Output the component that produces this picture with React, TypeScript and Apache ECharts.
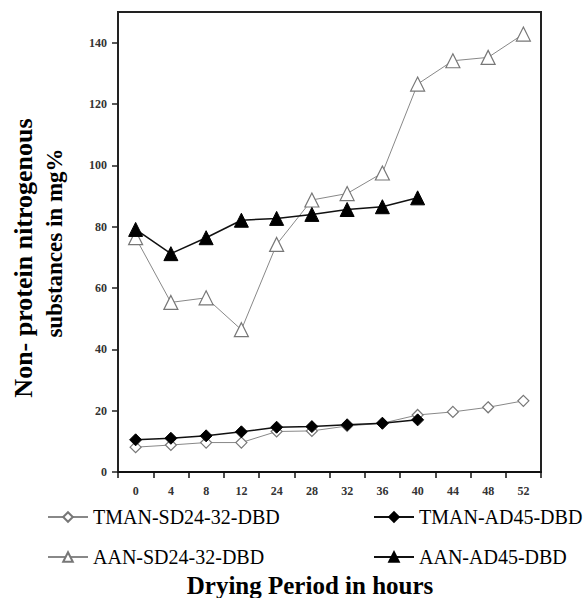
import React, { useEffect, useRef } from "react";
import * as echarts from "echarts";

// Drying period (hours) along the category axis
const hours = ["0", "4", "8", "12", "24", "28", "32", "36", "40", "44", "48", "52"];

// Non-protein nitrogenous substances, mg%
const tmanSD = [8.1, 8.8, 9.6, 9.6, 13.2, 13.4, 15.0, 15.9, 18.6, 19.6, 21.1, 23.2];
const tmanAD = [10.5, 11.0, 11.8, 13.1, 14.6, 14.8, 15.4, 15.9, 17.0];
const aanSD = [76.4, 55.3, 56.8, 46.4, 74.2, 88.7, 90.8, 97.5, 126.5, 134.1, 135.2, 142.8];
const aanAD = [79.1, 71.2, 76.4, 82.1, 82.7, 84.0, 85.6, 86.5, 89.4];

const seriesNames = ["TMAN-SD24-32-DBD", "TMAN-AD45-DBD", "AAN-SD24-32-DBD", "AAN-AD45-DBD"];

const yTitleLine1 = "Non- protein nitrogenous";
const yTitleLine2 = "substances in mg%";
const xTitle = "Drying Period in hours";

const SERIF = "'Liberation Serif', 'Times New Roman', serif";

export default function App() {
  const ref = useRef<HTMLDivElement>(null);

  useEffect(() => {
    if (!ref.current) return;
    const chart = echarts.init(ref.current, null, { renderer: "svg" });

    const hollow = { color: "#fff", borderColor: "#777", borderWidth: 1.2 };
    const filled = { color: "#000", borderColor: "#000", borderWidth: 1 };

    const legendBase = {
      orient: "horizontal" as const,
      padding: 0,
      itemWidth: 40,
      itemHeight: 12,
      itemGap: 5,
      textStyle: { fontFamily: SERIF, fontSize: 20, color: "#000" },
      inactiveColor: "#000",
      selectedMode: false as const,
    };

    chart.setOption({
      animation: false,
      backgroundColor: "#fff",
      grid: {
        left: 118,
        right: 46,
        top: 12,
        bottom: 126,
        show: true,
        borderColor: "#222",
        borderWidth: 2,
      },
      legend: [
        { ...legendBase, data: [seriesNames[0]], left: 47, top: 507 },
        { ...legendBase, data: [seriesNames[1]], left: 373, top: 507 },
        { ...legendBase, data: [seriesNames[2]], left: 47, top: 547 },
        { ...legendBase, data: [seriesNames[3]], left: 373, top: 547 },
      ],
      xAxis: {
        type: "category",
        data: hours,
        boundaryGap: true,
        axisLine: { lineStyle: { color: "#111", width: 2 } },
        axisTick: { show: true, length: 6, inside: false, lineStyle: { color: "#111", width: 1.5 } },
        axisLabel: {
          fontFamily: SERIF,
          fontWeight: "bold",
          fontSize: 12,
          color: "#333",
          margin: 13,
        },
        splitLine: { show: false },
      },
      yAxis: {
        type: "value",
        min: 0,
        max: 150,
        interval: 20,
        axisLine: { show: true, lineStyle: { color: "#222", width: 2 } },
        axisTick: { show: true, length: 6, lineStyle: { color: "#222", width: 1.5 } },
        axisLabel: {
          fontFamily: SERIF,
          fontWeight: "bold",
          fontSize: 12,
          color: "#333",
          margin: 11,
          showMaxLabel: false,
        },
        splitLine: { show: false },
      },
      graphic: [
        {
          type: "text",
          x: 23,
          y: 258,
          rotation: Math.PI / 2,
          style: {
            text: yTitleLine1,
            fontFamily: SERIF,
            fontWeight: "bold",
            fontSize: 26,
            fill: "#000",
            align: "center",
            verticalAlign: "middle",
          },
        },
        {
          type: "text",
          x: 54,
          y: 243,
          rotation: Math.PI / 2,
          style: {
            text: yTitleLine2,
            fontFamily: SERIF,
            fontWeight: "bold",
            fontSize: 23,
            fill: "#000",
            align: "center",
            verticalAlign: "middle",
          },
        },
        {
          type: "text",
          x: 310,
          y: 585,
          style: {
            text: xTitle,
            fontFamily: SERIF,
            fontWeight: "bold",
            fontSize: 25,
            fill: "#000",
            align: "center",
            verticalAlign: "middle",
          },
        },
      ],
      series: [
        {
          name: seriesNames[0],
          type: "line",
          data: tmanSD,
          symbol: "diamond",
          symbolSize: 11,
          itemStyle: hollow,
          lineStyle: { color: "#888", width: 1 },
          z: 2,
        },
        {
          name: seriesNames[2],
          type: "line",
          data: aanSD,
          symbol: "triangle",
          symbolSize: 14,
          itemStyle: hollow,
          lineStyle: { color: "#888", width: 1 },
          z: 2,
        },
        {
          name: seriesNames[1],
          type: "line",
          data: tmanAD,
          symbol: "diamond",
          symbolSize: 12,
          itemStyle: filled,
          lineStyle: { color: "#111", width: 1.5 },
          z: 3,
        },
        {
          name: seriesNames[3],
          type: "line",
          data: aanAD,
          symbol: "triangle",
          symbolSize: 14,
          itemStyle: filled,
          lineStyle: { color: "#111", width: 1.5 },
          z: 3,
        },
      ],
    });

    return () => chart.dispose();
  }, []);

  return (
    <div
      ref={ref}
      style={{ position: "fixed", left: 0, top: 0, width: 587, height: 598 }}
    />
  );
}
